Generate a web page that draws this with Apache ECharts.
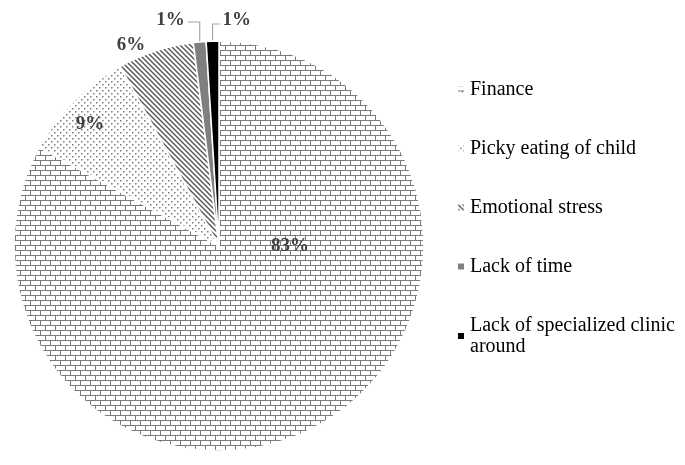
<!DOCTYPE html>
<html>
<head>
<meta charset="utf-8">
<script src="https://cdn.jsdelivr.net/npm/echarts@6/dist/echarts.min.js"></script>
<style>
html, body { margin: 0; padding: 0; background: #fff; }
#chart { width: 685px; height: 465px; }
</style>
</head>
<body>
<div id="chart"></div>
<script>
// data
const categories = ['Finance', 'Picky eating of child', 'Emotional stress', 'Lack of time', 'Lack of specialized clinic around'];
const values = [83, 9, 6, 1, 1];
const labelTexts = ['83%', '9%', '6%', '1%', '1%'];

// fill patterns
function makeTile(w, h, draw) {
    const c = document.createElement('canvas');
    c.width = w;
    c.height = h;
    const ctx = c.getContext('2d');
    ctx.fillStyle = '#fff';
    ctx.fillRect(0, 0, w, h);
    draw(ctx);
    return { image: c, repeat: 'repeat' };
}

const brick = makeTile(10, 10, ctx => {
    ctx.fillStyle = '#7a7a7a';
    ctx.fillRect(0, 0, 10, 1);
    ctx.fillRect(0, 5, 10, 1);
    ctx.fillRect(0, 0, 1, 5);
    ctx.fillRect(5, 5, 1, 5);
});

const dots = makeTile(6, 6, ctx => {
    ctx.fillStyle = '#7a7a7a';
    ctx.fillRect(0, 0, 1.5, 1.5);
    ctx.fillRect(3, 3, 1.5, 1.5);
});

const stripes = makeTile(5, 5, ctx => {
    ctx.strokeStyle = '#555';
    ctx.lineWidth = 1.4;
    ctx.beginPath();
    ctx.moveTo(-1, -1); ctx.lineTo(6, 6);
    ctx.moveTo(-1, 4); ctx.lineTo(1, 6);
    ctx.moveTo(4, -1); ctx.lineTo(6, 1);
    ctx.stroke();
});

const fills = [brick, dots, stripes, '#7f7f7f', '#000000'];

const myChart = echarts.init(document.getElementById('chart'));

const option = {
    animation: false,
    legend: {
        orient: 'vertical',
        left: 451,
        top: 74,
        icon: 'rect',
        itemWidth: 8,
        itemHeight: 8,
        itemGap: 38,
        data: categories,
        formatter: function (name) {
            return name === 'Lack of specialized clinic around' ? 'Lack of specialized clinic\naround' : name;
        },
        textStyle: {
            fontFamily: 'Liberation Serif',
            fontSize: 20,
            lineHeight: 21,
            color: '#000'
        }
    },
    series: [
        {
            type: 'pie',
            center: [219, 246],
            radius: 205,
            startAngle: 90,
            clockwise: true,
            avoidLabelOverlap: false,
            itemStyle: {
                borderColor: '#fff',
                borderWidth: 1.5
            },
            label: {
                show: true,
                position: 'outside',
                fontFamily: 'Liberation Serif',
                fontSize: 19,
                fontWeight: 'bold',
                color: '#404040',
                formatter: p => labelTexts[p.dataIndex]
            },
            labelLine: {
                show: true,
                length: 18,
                length2: 12,
                lineStyle: { color: '#a6a6a6', width: 1.2 }
            },
            labelLayout: function (params) {
                const i = params.dataIndex;
                const pts = params.labelLinePoints;
                if (i === 0) return { x: 290, y: 246, align: 'center', verticalAlign: 'middle' };
                if (i === 1) return { x: 90, y: 124, align: 'center', verticalAlign: 'middle' };
                if (i === 2) return { x: 131, y: 45, align: 'center', verticalAlign: 'middle' };
                if (pts) {
                    const p0 = pts[0];
                    if (i === 3) {
                        return {
                            x: p0[0] - 15, y: 20, align: 'right', verticalAlign: 'middle',
                            labelLinePoints: [p0, [p0[0], 22], [p0[0] - 12, 22]]
                        };
                    }
                    if (i === 4) {
                        return {
                            x: p0[0] + 10, y: 20, align: 'left', verticalAlign: 'middle',
                            labelLinePoints: [p0, [p0[0], 24], [p0[0] + 8, 24]]
                        };
                    }
                }
            },
            data: categories.map((name, i) => ({
                name: name,
                value: values[i],
                itemStyle: { color: fills[i] },
                labelLine: { show: i >= 3 }
            }))
        }
    ]
};

myChart.setOption(option);
window.addEventListener('resize', () => {
    myChart.resize();
});
</script>
</body>
</html>
